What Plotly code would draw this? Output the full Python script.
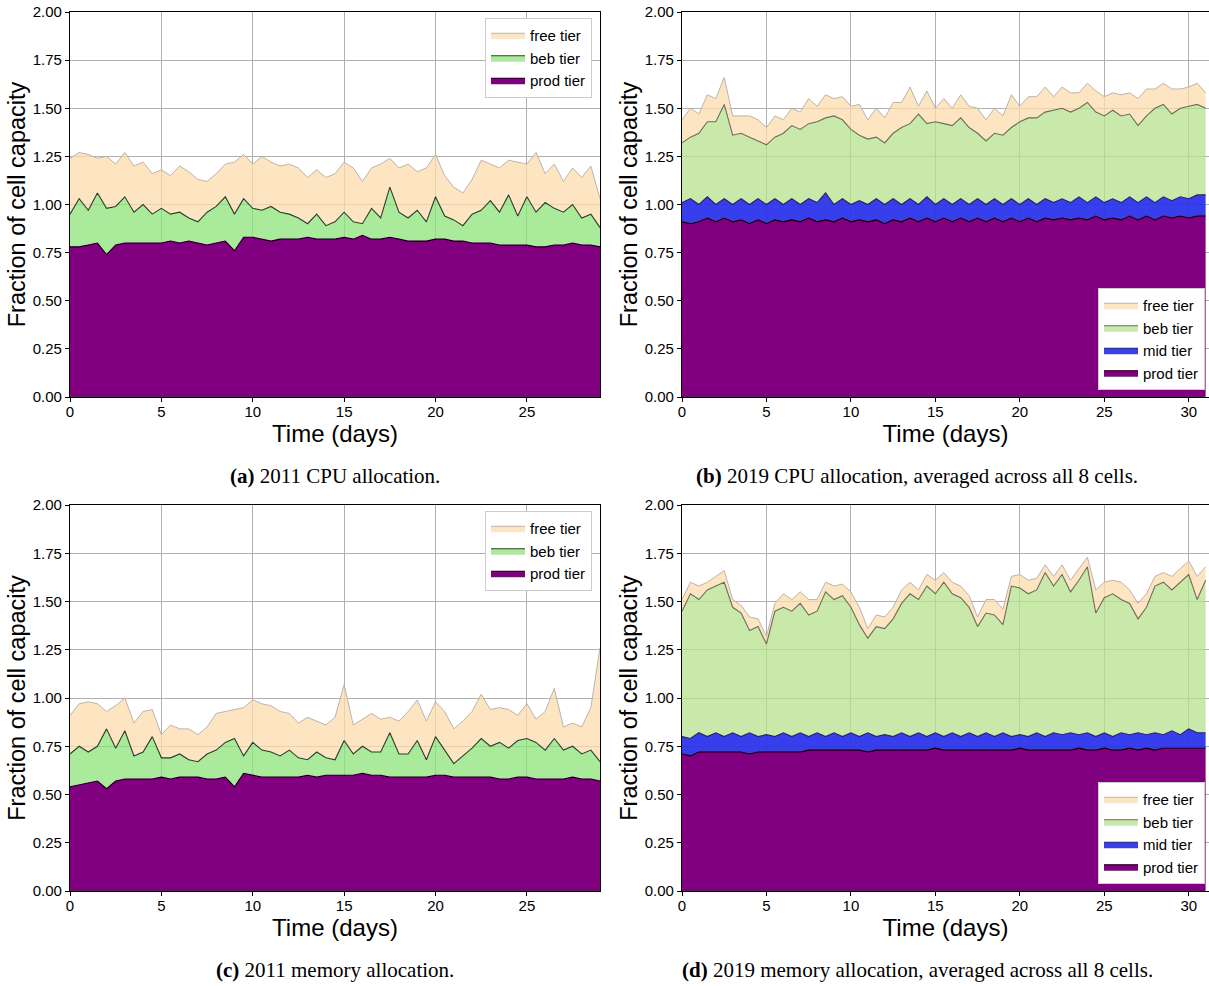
import plotly.graph_objects as go

# cumulative tops, one sample every half day
a_prod = [0.78, 0.78, 0.79, 0.80, 0.74, 0.79, 0.80, 0.80, 0.80, 0.80,
          0.80, 0.81, 0.80, 0.81, 0.80, 0.79, 0.80, 0.81, 0.76, 0.83,
          0.83, 0.82, 0.81, 0.82, 0.82, 0.82, 0.83, 0.82, 0.82, 0.82,
          0.83, 0.82, 0.84, 0.82, 0.82, 0.83, 0.82, 0.81, 0.81, 0.81,
          0.82, 0.82, 0.81, 0.81, 0.80, 0.80, 0.80, 0.79, 0.79, 0.79,
          0.79, 0.78, 0.78, 0.79, 0.79, 0.80, 0.79, 0.79, 0.78]
a_beb = [0.95, 1.03, 0.97, 1.06, 0.98, 0.99, 1.04, 0.96, 1.00, 0.95,
         0.98, 0.95, 0.96, 0.93, 0.91, 0.96, 0.99, 1.04, 0.95, 1.03,
         0.98, 0.97, 0.99, 0.96, 0.95, 0.93, 0.90, 0.95, 0.89, 0.91,
         0.96, 0.91, 0.90, 0.98, 0.93, 1.09, 0.96, 0.93, 0.97, 0.91,
         1.04, 0.94, 0.92, 0.89, 0.95, 0.97, 1.02, 0.96, 1.05, 0.94,
         1.04, 0.96, 1.01, 0.98, 0.96, 1.00, 0.93, 0.95, 0.88]
a_free = [1.24, 1.27, 1.26, 1.24, 1.25, 1.21, 1.27, 1.20, 1.22, 1.16,
          1.18, 1.15, 1.20, 1.17, 1.13, 1.12, 1.16, 1.21, 1.22, 1.26,
          1.21, 1.25, 1.22, 1.20, 1.21, 1.19, 1.14, 1.18, 1.14, 1.16,
          1.22, 1.19, 1.12, 1.19, 1.21, 1.24, 1.19, 1.21, 1.17, 1.19,
          1.26, 1.15, 1.09, 1.06, 1.13, 1.23, 1.21, 1.19, 1.23, 1.22,
          1.21, 1.27, 1.16, 1.21, 1.12, 1.19, 1.14, 1.20, 1.03]

b_prod = [0.91, 0.90, 0.91, 0.93, 0.91, 0.93, 0.91, 0.92, 0.90, 0.92,
          0.90, 0.92, 0.91, 0.92, 0.91, 0.93, 0.91, 0.92, 0.91, 0.93,
          0.91, 0.92, 0.91, 0.92, 0.90, 0.92, 0.91, 0.93, 0.91, 0.93,
          0.91, 0.93, 0.91, 0.93, 0.91, 0.93, 0.91, 0.93, 0.91, 0.93,
          0.91, 0.93, 0.91, 0.93, 0.92, 0.93, 0.92, 0.93, 0.92, 0.94,
          0.92, 0.93, 0.92, 0.94, 0.92, 0.94, 0.92, 0.94, 0.93, 0.94,
          0.93, 0.94, 0.94]
b_mid = [1.01, 1.03, 1.00, 1.04, 1.00, 1.03, 1.00, 1.03, 1.00, 1.03,
         1.00, 1.03, 1.00, 1.03, 1.00, 1.03, 1.01, 1.06, 1.00, 1.03,
         1.00, 1.02, 1.00, 1.03, 1.00, 1.03, 1.00, 1.03, 1.00, 1.04,
         1.00, 1.03, 1.00, 1.03, 1.00, 1.03, 1.00, 1.03, 1.00, 1.03,
         1.00, 1.03, 1.00, 1.03, 1.01, 1.03, 1.01, 1.04, 1.01, 1.04,
         1.01, 1.03, 1.01, 1.04, 1.01, 1.04, 1.01, 1.04, 1.02, 1.04,
         1.03, 1.05, 1.05]
b_beb = [1.32, 1.35, 1.37, 1.43, 1.43, 1.52, 1.36, 1.37, 1.35, 1.33,
         1.31, 1.35, 1.37, 1.41, 1.39, 1.42, 1.43, 1.45, 1.46, 1.44,
         1.39, 1.36, 1.34, 1.35, 1.32, 1.37, 1.40, 1.42, 1.47, 1.42,
         1.43, 1.42, 1.41, 1.45, 1.40, 1.37, 1.33, 1.37, 1.36, 1.40,
         1.43, 1.45, 1.45, 1.48, 1.49, 1.50, 1.48, 1.50, 1.53, 1.48,
         1.46, 1.49, 1.46, 1.47, 1.41, 1.46, 1.50, 1.52, 1.47, 1.50,
         1.51, 1.52, 1.50]
b_free = [1.44, 1.50, 1.47, 1.57, 1.55, 1.66, 1.46, 1.46, 1.46, 1.44,
          1.40, 1.46, 1.44, 1.50, 1.48, 1.55, 1.51, 1.57, 1.55, 1.56,
          1.51, 1.52, 1.44, 1.50, 1.45, 1.53, 1.53, 1.61, 1.51, 1.59,
          1.50, 1.55, 1.50, 1.57, 1.51, 1.50, 1.44, 1.50, 1.46, 1.57,
          1.51, 1.56, 1.56, 1.61, 1.56, 1.61, 1.58, 1.58, 1.63, 1.59,
          1.56, 1.58, 1.57, 1.58, 1.55, 1.60, 1.60, 1.63, 1.60, 1.60,
          1.61, 1.63, 1.58]

c_prod = [0.54, 0.55, 0.56, 0.57, 0.53, 0.57, 0.58, 0.58, 0.58, 0.58,
          0.59, 0.58, 0.59, 0.59, 0.59, 0.58, 0.58, 0.59, 0.54, 0.61,
          0.60, 0.59, 0.59, 0.59, 0.59, 0.59, 0.60, 0.59, 0.60, 0.60,
          0.60, 0.60, 0.61, 0.60, 0.60, 0.59, 0.59, 0.59, 0.59, 0.59,
          0.60, 0.60, 0.59, 0.59, 0.59, 0.59, 0.59, 0.58, 0.58, 0.59,
          0.59, 0.58, 0.58, 0.58, 0.58, 0.59, 0.58, 0.58, 0.57]
c_beb = [0.71, 0.75, 0.72, 0.75, 0.84, 0.74, 0.83, 0.70, 0.72, 0.80,
         0.69, 0.69, 0.71, 0.68, 0.67, 0.71, 0.73, 0.77, 0.79, 0.70,
         0.77, 0.73, 0.72, 0.70, 0.73, 0.69, 0.68, 0.72, 0.69, 0.68,
         0.78, 0.71, 0.75, 0.72, 0.72, 0.82, 0.71, 0.71, 0.78, 0.68,
         0.80, 0.73, 0.66, 0.70, 0.74, 0.79, 0.75, 0.77, 0.74, 0.78,
         0.79, 0.77, 0.73, 0.79, 0.73, 0.75, 0.71, 0.73, 0.67]
c_free = [0.91, 0.97, 0.98, 0.97, 0.93, 0.96, 1.00, 0.87, 0.93, 0.94,
          0.81, 0.86, 0.84, 0.84, 0.81, 0.85, 0.92, 0.93, 0.94, 0.95,
          0.99, 0.97, 0.96, 0.93, 0.92, 0.87, 0.90, 0.88, 0.86, 0.90,
          1.07, 0.86, 0.89, 0.92, 0.89, 0.90, 0.88, 0.93, 0.99, 0.88,
          0.98, 0.93, 0.84, 0.88, 0.93, 1.02, 0.94, 0.95, 0.94, 0.91,
          0.97, 0.89, 0.93, 1.05, 0.85, 0.87, 0.85, 0.95, 1.26]

d_prod = [0.71, 0.70, 0.72, 0.72, 0.72, 0.72, 0.72, 0.72, 0.71, 0.72,
          0.72, 0.72, 0.72, 0.72, 0.72, 0.73, 0.73, 0.73, 0.73, 0.73,
          0.73, 0.73, 0.72, 0.73, 0.73, 0.73, 0.73, 0.73, 0.73, 0.73,
          0.74, 0.73, 0.73, 0.73, 0.73, 0.73, 0.73, 0.73, 0.73, 0.73,
          0.74, 0.73, 0.73, 0.73, 0.73, 0.73, 0.73, 0.74, 0.73, 0.73,
          0.74, 0.73, 0.73, 0.74, 0.73, 0.74, 0.73, 0.74, 0.74, 0.74,
          0.74, 0.74, 0.74]
d_mid = [0.80, 0.79, 0.82, 0.80, 0.82, 0.80, 0.82, 0.80, 0.82, 0.80,
         0.81, 0.80, 0.82, 0.80, 0.82, 0.80, 0.82, 0.80, 0.82, 0.80,
         0.82, 0.80, 0.82, 0.80, 0.81, 0.80, 0.82, 0.80, 0.82, 0.80,
         0.82, 0.80, 0.82, 0.80, 0.82, 0.80, 0.82, 0.80, 0.82, 0.80,
         0.81, 0.80, 0.82, 0.80, 0.82, 0.81, 0.82, 0.81, 0.82, 0.80,
         0.82, 0.80, 0.82, 0.81, 0.82, 0.81, 0.82, 0.81, 0.83, 0.81,
         0.84, 0.82, 0.82]
d_beb = [1.45, 1.54, 1.51, 1.56, 1.58, 1.60, 1.47, 1.44, 1.35, 1.37,
         1.28, 1.45, 1.47, 1.45, 1.49, 1.43, 1.45, 1.55, 1.51, 1.53,
         1.47, 1.38, 1.31, 1.37, 1.36, 1.41, 1.49, 1.54, 1.51, 1.58,
         1.54, 1.60, 1.54, 1.52, 1.47, 1.37, 1.44, 1.43, 1.38, 1.58,
         1.57, 1.54, 1.56, 1.65, 1.58, 1.64, 1.55, 1.61, 1.68, 1.44,
         1.52, 1.54, 1.51, 1.49, 1.41, 1.47, 1.58, 1.60, 1.56, 1.60,
         1.64, 1.51, 1.61]
d_free = [1.51, 1.60, 1.58, 1.60, 1.63, 1.66, 1.51, 1.48, 1.42, 1.41,
          1.32, 1.49, 1.54, 1.51, 1.55, 1.51, 1.51, 1.60, 1.58, 1.59,
          1.55, 1.47, 1.36, 1.43, 1.42, 1.47, 1.56, 1.60, 1.56, 1.64,
          1.61, 1.65, 1.60, 1.58, 1.53, 1.42, 1.51, 1.51, 1.46, 1.63,
          1.64, 1.61, 1.62, 1.69, 1.63, 1.69, 1.61, 1.67, 1.73, 1.56,
          1.60, 1.61, 1.60, 1.56, 1.49, 1.54, 1.63, 1.65, 1.63, 1.67,
          1.71, 1.63, 1.68]

captions = ["<b>(a)</b> 2011 CPU allocation.",
            "<b>(b)</b> 2019 CPU allocation, averaged across all 8 cells.",
            "<b>(c)</b> 2011 memory allocation.",
            "<b>(d)</b> 2019 memory allocation, averaged across all 8 cells."]

W, H = 1209, 986
SANS = "Liberation Sans, Arial, sans-serif"

panels = [
    # name, series(bottom -> top), x range, plot box in px (l, r, top, bottom), legend corner
    ("1", [("prod tier", a_prod), ("beb tier", a_beb), ("free tier", a_free)], 29.0, (70, 600, 12, 397), "top"),
    ("2", [("prod tier", b_prod), ("mid tier", b_mid), ("beb tier", b_beb), ("free tier", b_free)], 31.2, (682, 1209, 12, 397), "bottom"),
    ("3", [("prod tier", c_prod), ("beb tier", c_beb), ("free tier", c_free)], 29.0, (70, 600, 505, 891), "top"),
    ("4", [("prod tier", d_prod), ("mid tier", d_mid), ("beb tier", d_beb), ("free tier", d_free)], 31.2, (682, 1209, 505, 891), "bottom"),
]

# colours: (fill, line) per tier, 2011 and 2019 greens differ a bit
style_2011 = {"prod tier": ("#800080", "#000000"),
              "beb tier": ("rgba(142,228,122,0.75)", "#383430"),
              "free tier": ("rgba(254,220,174,0.75)", "#b5b5b5")}
style_2019 = {"prod tier": ("#800080", "#000000"),
              "mid tier": ("rgba(40,48,235,0.93)", "#2a2a2a"),
              "beb tier": ("rgba(182,226,142,0.75)", "#74685c"),
              "free tier": ("rgba(254,220,174,0.75)", "#b5b5b5")}

fig = go.Figure()
layout = dict(width=W, height=H, margin=dict(l=0, r=0, t=0, b=0),
              plot_bgcolor="white", paper_bgcolor="white",
              font=dict(family=SANS, color="black"), hovermode=False)

for k, series, xmax, box, corner in panels:
    l, r, t, b = box
    sfx = "" if k == "1" else k
    sty = style_2011 if len(series) == 3 else style_2019
    legend_name = "legend" + sfx
    for j, (name, vals) in enumerate(series):
        days = [n * 0.5 for n in range(len(vals))]
        fc, lc = sty[name]
        fig.add_trace(go.Scatter(
            x=days, y=vals, name=name, mode="lines",
            line=dict(color=lc, width=1.1 if name != "free tier" else 1),
            fill="tozeroy" if j == 0 else "tonexty", fillcolor=fc,
            xaxis="x" + sfx, yaxis="y" + sfx,
            legend=legend_name, showlegend=True))

    axis_common = dict(showline=True, linecolor="black", linewidth=1.2, mirror=True,
                       ticks="outside", ticklen=4, tickcolor="black",
                       showgrid=True, gridcolor="#b0b0b0", gridwidth=1,
                       tickfont=dict(size=15, family=SANS), zeroline=False,
                       automargin=False)
    xa = dict(axis_common, domain=[l / W, r / W], range=[0, xmax], dtick=5, tickformat="d",
              anchor="y" + sfx, ticklabelstandoff=-3,
              title=dict(text="Time (days)", font=dict(size=24, family=SANS), standoff=0))
    ya = dict(axis_common, domain=[1 - b / H, 1 - t / H], range=[0, 2], dtick=0.25,
              tickformat=".2f", anchor="x" + sfx,
              title=dict(text="Fraction of cell capacity", font=dict(size=23.5, family=SANS), standoff=0))
    layout["xaxis" + sfx] = xa
    layout["yaxis" + sfx] = ya

    if corner == "top":
        leg = dict(x=(r - 8) / W, y=1 - (t + 6) / H, xanchor="right", yanchor="top")
    else:
        leg = dict(x=(r - 4) / W, y=1 - (b - 7) / H, xanchor="right", yanchor="bottom")
    leg.update(bgcolor="white", bordercolor="#cccccc", borderwidth=1,
               font=dict(size=15, family=SANS), traceorder="reversed",
               itemwidth=34, tracegroupgap=0)
    layout[legend_name] = leg

fig.update_layout(**layout)

cap_pos = [(335, 476), (917, 476), (335, 970), (918, 970)]
for text, (cx, cy) in zip(captions, cap_pos):
    fig.add_annotation(text=text, x=cx / W, y=1 - cy / H, xref="paper", yref="paper",
                       showarrow=False, xanchor="center", yanchor="middle",
                       font=dict(family="Liberation Serif, DejaVu Serif, serif", size=21, color="black"))

fig.write_html("out.html", config={"displayModeBar": False},
               post_script="document.body.style.margin='0px';document.body.style.overflow='hidden';")
